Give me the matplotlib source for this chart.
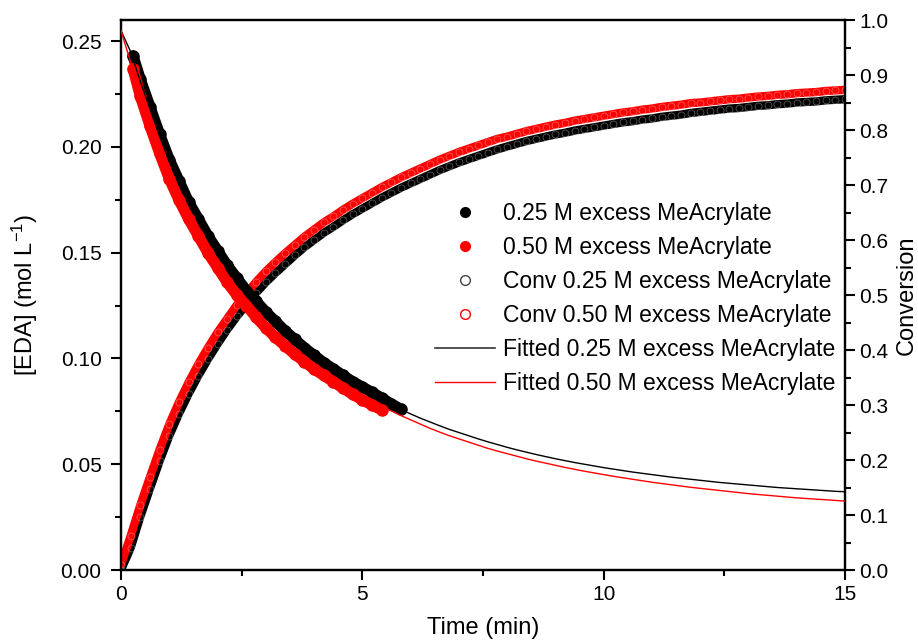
import matplotlib
matplotlib.use('Agg')
import matplotlib.pyplot as plt
from matplotlib.lines import Line2D
from matplotlib.ticker import MultipleLocator, FormatStrFormatter

plt.rcParams['font.family'] = ['Liberation Sans', 'DejaVu Sans']
plt.rcParams['mathtext.default'] = 'regular'

# time grid of the conversion data and of the fitted curves (min)
t_grid = [0.0, 0.2, 0.4, 0.6, 0.8, 1.0, 1.2, 1.4, 1.6, 1.8,
          2.0, 2.2, 2.4, 2.6, 2.8, 3.0, 3.2, 3.4, 3.6, 3.8,
          4.0, 4.2, 4.4, 4.6, 4.8, 5.0, 5.2, 5.4, 5.6, 5.8,
          6.0, 6.2, 6.4, 6.6, 6.8, 7.0, 7.2, 7.4, 7.6, 7.8,
          8.0, 8.2, 8.4, 8.6, 8.8, 9.0, 9.2, 9.4, 9.6, 9.8,
          10.0, 10.2, 10.4, 10.6, 10.8, 11.0, 11.2, 11.4, 11.6, 11.8,
          12.0, 12.2, 12.4, 12.6, 12.8, 13.0, 13.2, 13.4, 13.6, 13.8,
          14.0, 14.2, 14.4, 14.6, 14.8, 15.0]

# conversion, 0.25 M excess
conv_025 = [0.000, 0.040, 0.097, 0.148, 0.198, 0.244, 0.284, 0.320, 0.353, 0.383,
            0.411, 0.437, 0.461, 0.483, 0.504, 0.523, 0.540, 0.556, 0.572, 0.587,
            0.600, 0.613, 0.624, 0.636, 0.647, 0.657, 0.667, 0.677, 0.686, 0.695,
            0.703, 0.711, 0.719, 0.727, 0.734, 0.741, 0.747, 0.753, 0.759, 0.765,
            0.770, 0.775, 0.780, 0.784, 0.788, 0.792, 0.795, 0.799, 0.802, 0.805,
            0.808, 0.811, 0.814, 0.816, 0.819, 0.821, 0.824, 0.826, 0.828, 0.831,
            0.833, 0.835, 0.837, 0.839, 0.840, 0.842, 0.844, 0.845, 0.847, 0.848,
            0.850, 0.851, 0.852, 0.854, 0.855, 0.856]

# conversion, 0.50 M excess
conv_050 = [0.010, 0.062, 0.118, 0.169, 0.219, 0.265, 0.305, 0.341, 0.374, 0.404,
            0.432, 0.457, 0.482, 0.503, 0.524, 0.543, 0.560, 0.576, 0.591, 0.606,
            0.619, 0.632, 0.643, 0.655, 0.666, 0.676, 0.686, 0.696, 0.705, 0.714,
            0.722, 0.730, 0.738, 0.746, 0.753, 0.760, 0.766, 0.772, 0.778, 0.784,
            0.788, 0.793, 0.798, 0.802, 0.806, 0.810, 0.813, 0.817, 0.820, 0.823,
            0.826, 0.829, 0.832, 0.834, 0.837, 0.839, 0.842, 0.844, 0.846, 0.849,
            0.850, 0.852, 0.854, 0.856, 0.857, 0.859, 0.861, 0.862, 0.864, 0.865,
            0.867, 0.868, 0.869, 0.871, 0.872, 0.873]

# fitted [EDA], mol/L
fit_025 = [0.255, 0.245, 0.231, 0.218, 0.205, 0.193, 0.183, 0.173, 0.165, 0.157,
           0.150, 0.143, 0.137, 0.131, 0.126, 0.121, 0.1165, 0.112, 0.108, 0.104,
           0.1005, 0.097, 0.094, 0.091, 0.088, 0.0855, 0.083, 0.0805, 0.078, 0.0758,
           0.0738, 0.0718, 0.0700, 0.0682, 0.0665, 0.0650, 0.0635, 0.0620, 0.0606, 0.0593,
           0.0580, 0.0568, 0.0557, 0.0546, 0.0536, 0.0526, 0.0517, 0.0508, 0.0500, 0.0492,
           0.0484, 0.0477, 0.0470, 0.0463, 0.0457, 0.0451, 0.0445, 0.0439, 0.0434, 0.0429,
           0.0424, 0.0419, 0.0414, 0.0410, 0.0406, 0.0402, 0.0398, 0.0394, 0.0390, 0.0387,
           0.0384, 0.0381, 0.0378, 0.0375, 0.0372, 0.0370]

fit_050 = [0.255, 0.240, 0.225, 0.212, 0.199, 0.187, 0.177, 0.168, 0.160, 0.152,
           0.145, 0.138, 0.132, 0.127, 0.1215, 0.1165, 0.112, 0.108, 0.104, 0.1005,
           0.097, 0.094, 0.091, 0.088, 0.085, 0.0825, 0.080, 0.0775, 0.0752, 0.0730,
           0.0710, 0.0690, 0.0670, 0.0652, 0.0635, 0.0620, 0.0605, 0.0590, 0.0575, 0.0562,
           0.0550, 0.0538, 0.0526, 0.0515, 0.0505, 0.0495, 0.0485, 0.0476, 0.0467, 0.0459,
           0.0451, 0.0443, 0.0436, 0.0429, 0.0422, 0.0415, 0.0409, 0.0403, 0.0397, 0.0391,
           0.0386, 0.0381, 0.0376, 0.0371, 0.0366, 0.0361, 0.0357, 0.0353, 0.0349, 0.0345,
           0.0341, 0.0338, 0.0335, 0.0332, 0.0329, 0.0326]

# measured [EDA], mol/L
t_eda_025 = [0.25, 0.4, 0.6, 0.8, 1.0, 1.2, 1.4, 1.6, 1.8, 2.0, 2.2, 2.4, 2.6, 2.8,
             3.0, 3.2, 3.4, 3.6, 3.8, 4.0, 4.2, 4.4, 4.6, 4.8, 5.0, 5.2, 5.4, 5.6, 5.8]
eda_025 = [0.243, 0.232, 0.219, 0.206, 0.194, 0.184, 0.174, 0.166, 0.158, 0.151,
           0.144, 0.138, 0.132, 0.127, 0.122, 0.1175, 0.113, 0.109, 0.105, 0.1015,
           0.098, 0.095, 0.092, 0.089, 0.0865, 0.084, 0.0813, 0.0785, 0.0760]

t_eda_050 = [0.25, 0.4, 0.6, 0.8, 1.0, 1.2, 1.4, 1.6, 1.8, 2.0, 2.2, 2.4, 2.6, 2.8,
             3.0, 3.2, 3.4, 3.6, 3.8, 4.0, 4.2, 4.4, 4.6, 4.8, 5.0, 5.2, 5.4]
eda_050 = [0.237, 0.224, 0.210, 0.197, 0.185, 0.175, 0.166, 0.158, 0.150, 0.143,
           0.136, 0.130, 0.125, 0.1195, 0.1145, 0.110, 0.106, 0.102, 0.0985, 0.095,
           0.092, 0.089, 0.086, 0.083, 0.0805, 0.078, 0.0757]

RED = '#ff0000'

fig = plt.figure(figsize=(9.18, 6.44), dpi=100)
ax = fig.add_axes([0.1318, 0.1149, 0.7887, 0.854])
ax2 = ax.twinx()

# conversion (open circles, so dense they form a speckled band)
for y, c in [(conv_025, 'black'), (conv_050, RED)]:
    ax2.plot(t_grid, y, '-', color=c, lw=6, solid_capstyle='round', zorder=2)
    ax2.plot(t_grid, y, 'o', ms=5, mfc='none', mec='white', mew=0.6, alpha=0.35, zorder=3)

# [EDA] data (filled circles)
for t, y, c in [(t_eda_025, eda_025, 'black'), (t_eda_050, eda_050, RED)]:
    ax.plot(t, y, '-', color=c, lw=8, solid_capstyle='round', zorder=4)
    ax.plot(t, y, 'o', color=c, ms=8, zorder=4)

ax.plot(t_grid, fit_025, color='black', lw=1.0, zorder=6)
ax.plot(t_grid, fit_050, color=RED, lw=1.0, zorder=6)

ax.set_zorder(ax2.get_zorder() + 1)
ax.patch.set_visible(False)

ax.set_xlim(0, 15)
ax.set_ylim(0, 0.26)
ax2.set_ylim(0, 1.0)

ax.xaxis.set_major_locator(MultipleLocator(5))
ax.xaxis.set_minor_locator(MultipleLocator(2.5))
ax.yaxis.set_major_locator(MultipleLocator(0.05))
ax.yaxis.set_minor_locator(MultipleLocator(0.025))
ax.yaxis.set_major_formatter(FormatStrFormatter('%.2f'))
ax2.yaxis.set_major_locator(MultipleLocator(0.1))
ax2.yaxis.set_minor_locator(MultipleLocator(0.05))
ax2.yaxis.set_major_formatter(FormatStrFormatter('%.1f'))

for a in (ax, ax2):
    a.tick_params(which='major', length=7, width=1.5, labelsize=15, direction='out')
    a.tick_params(which='minor', length=4, width=1.5, direction='out')
    for s in a.spines.values():
        s.set_linewidth(1.6)
ax.tick_params(top=False, which='both')
ax.tick_params(axis='y', which='major', pad=7)

ax.set_xlabel('Time (min)', fontsize=17, labelpad=10)
ax.set_ylabel('[EDA] (mol L$^{-1}$)', fontsize=17, labelpad=15)
ax2.set_ylabel('Conversion', fontsize=17, labelpad=5)

handles = [
    Line2D([], [], ls='none', marker='o', color='black', ms=7),
    Line2D([], [], ls='none', marker='o', color=RED, ms=7),
    Line2D([], [], ls='none', marker='o', mfc='none', mec='#444444', ms=7),
    Line2D([], [], ls='none', marker='o', mfc='none', mec=RED, ms=7),
    Line2D([], [], color='#333333', lw=1.2),
    Line2D([], [], color=RED, lw=1.0),
]
labels = ['0.25 M excess MeAcrylate', '0.50 M excess MeAcrylate',
          'Conv 0.25 M excess MeAcrylate', 'Conv 0.50 M excess MeAcrylate',
          'Fitted 0.25 M excess MeAcrylate', 'Fitted 0.50 M excess MeAcrylate']
ax.legend(handles, labels, loc='upper left', bbox_to_anchor=(435 / 918, 1 - 202 / 644),
          bbox_transform=fig.transFigure, frameon=False, fontsize=16.5,
          handlelength=2.62, handletextpad=0.35, labelspacing=0.48,
          borderpad=0, borderaxespad=0)

fig.savefig('out.png', dpi=100)
